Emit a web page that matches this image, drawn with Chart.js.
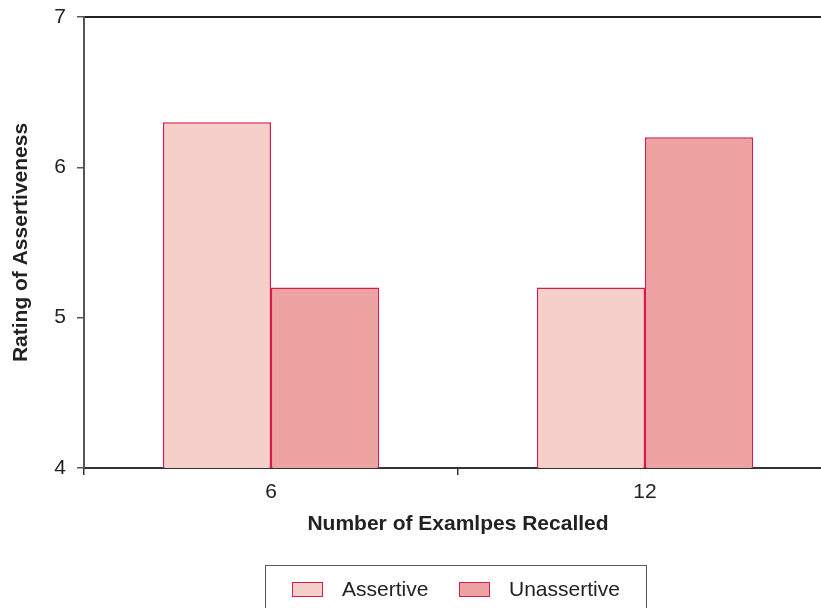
<!DOCTYPE html>
<html>
<head>
<meta charset="utf-8">
<script src="https://cdn.jsdelivr.net/npm/chart.js@4/dist/chart.umd.min.js"></script>
<style>
  html, body { margin: 0; padding: 0; background: #fff; overflow: hidden; }
  #wrap { position: relative; width: 821px; height: 608px; overflow: hidden; }
  #box { position: absolute; left: 0; top: 0; width: 840px; height: 608px; }
  #legend {
    position: absolute; left: 265px; top: 565px; width: 382px; height: 60px;
    border: 1.5px solid #555; box-sizing: border-box;
    font-family: "Liberation Sans", Arial, sans-serif; font-size: 21px; color: #222;
  }
  .item { position: absolute; top: 10px; display: flex; align-items: center; height: 26px; }
  .swatch { width: 29px; height: 13px; border: 1.5px solid #d81b4c; margin-right: 19px; }
</style>
</head>
<body>
<div id="wrap">
  <div id="box"><canvas id="chart" width="840" height="608"></canvas></div>
  <div id="legend"></div>
</div>
<script>
// data
const categories = ['6', '12'];
const assertive = [6.3, 5.2];
const unassertive = [5.2, 6.2];
const yTicks = [4, 5, 6, 7];

const fontFamily = '"Liberation Sans", Arial, sans-serif';
const barBorder = '#d81b4c';

const ctx = document.getElementById('chart').getContext('2d');
const chart = new Chart(ctx, {
    type: 'bar',
    data: {
        labels: categories,
        datasets: [
            { label: 'Assertive', data: assertive, backgroundColor: '#f5cfc9', borderColor: barBorder, borderWidth: 1.5, borderSkipped: false },
            { label: 'Unassertive', data: unassertive, backgroundColor: '#eca3a1', borderColor: barBorder, borderWidth: 1.5, borderSkipped: false }
        ]
    },
    options: {
        responsive: false,
        animation: false,
        layout: { padding: { top: 17, right: 8, left: 0, bottom: 60 } },
        plugins: { legend: { display: false }, tooltip: { enabled: false } },
        datasets: { bar: { categoryPercentage: 0.578, barPercentage: 1.0 } },
        scales: {
            x: {
                offset: true,
                grid: { offset: true, drawOnChartArea: false, drawTicks: true, tickLength: 7, color: '#333', lineWidth: 1.5 },
                border: { display: true, color: '#333', width: 2 },
                ticks: { color: '#222', padding: 5, font: { family: fontFamily, size: 21 } },
                title: { display: true, text: 'Number of Examlpes Recalled', color: '#222', padding: { top: 0, bottom: 11 }, font: { family: fontFamily, size: 21, weight: 'bold' } },
                afterFit: s => { s.height = 80; s.paddingLeft = 0; s.paddingRight = 0; }
            },
            x2: {
                position: 'top',
                labels: categories,
                grid: { display: true, drawOnChartArea: false, drawTicks: false },
                border: { display: true, color: '#222', width: 2 },
                ticks: { display: false },
                afterFit: s => { s.height = 0; }
            },
            y: {
                min: 4,
                max: 7,
                afterBuildTicks: s => { s.ticks = yTicks.map(v => ({ value: v })); },
                grid: { drawOnChartArea: false, drawTicks: true, tickLength: 7, color: '#555', lineWidth: 1.5 },
                border: { display: true, color: '#555', width: 2 },
                ticks: { color: '#222', padding: 11, font: { family: fontFamily, size: 21 } },
                title: { display: true, text: 'Rating of Assertiveness', color: '#222', padding: { top: 9, bottom: 0 }, font: { family: fontFamily, size: 21, weight: 'bold' } },
                afterFit: s => { s.width = 84; s.paddingTop = 0; s.paddingBottom = 0; }
            }
        }
    }
});

// html legend built from the datasets
const legend = document.getElementById('legend');
const itemLeft = [26, 193];
chart.data.datasets.forEach((ds, i) => {
    const item = document.createElement('div');
    item.className = 'item';
    item.style.left = itemLeft[i] + 'px';
    const sw = document.createElement('span');
    sw.className = 'swatch';
    sw.style.background = ds.backgroundColor;
    const txt = document.createElement('span');
    txt.textContent = ds.label;
    item.appendChild(sw);
    item.appendChild(txt);
    legend.appendChild(item);
});
</script>
</body>
</html>
